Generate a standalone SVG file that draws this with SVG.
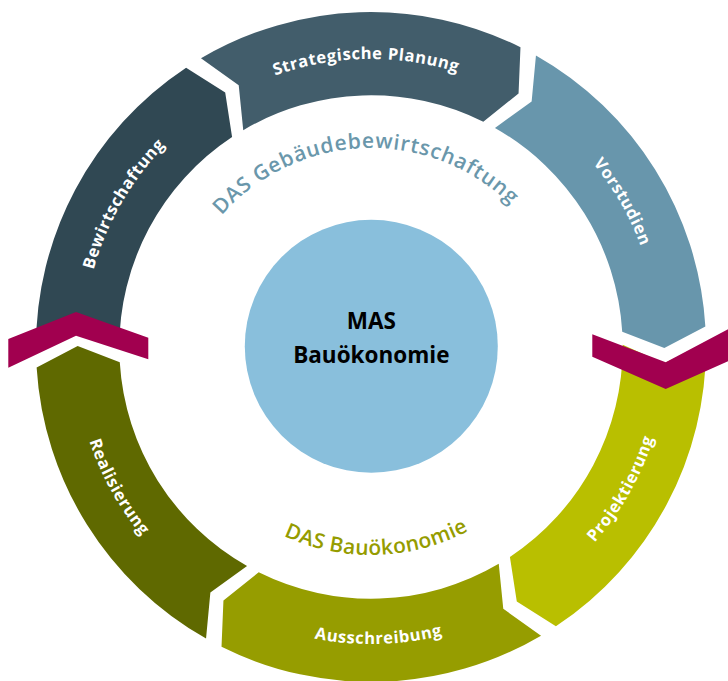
<svg xmlns="http://www.w3.org/2000/svg" width="728" height="681" viewBox="0 0 728 681">
<style>
.lbl{font-family:"Open Sans","Noto Sans","Liberation Sans",sans-serif;font-weight:700;font-size:16.5px;fill:#ffffff;letter-spacing:0.6px}
.das{font-family:"Open Sans","Noto Sans","Liberation Sans",sans-serif;font-weight:600;font-size:21px}
.ctr{font-family:"Open Sans","Noto Sans","Liberation Sans",sans-serif;font-weight:700;font-size:22.5px;fill:#000000}
.chev{fill:#a1004f}
</style>
<defs>
<path id="pStrat" d="M86.55,301.95 A288,288 0 0 1 653.71,292.05"/>
<path id="pVor" d="M272.50,76.37 A288,288 0 0 1 556.12,567.62"/>
<path id="pBew" d="M185.88,567.62 A288,288 0 0 1 469.50,76.37"/>
<path id="pProj" d="M271.86,626.96 A297,297 0 0 0 559.92,117.83"/>
<path id="pAus" d="M79.96,406.21 A297,297 0 0 0 664.74,390.90"/>
<path id="pReal" d="M184.09,116.19 A297,297 0 0 0 467.69,627.82"/>
<path id="pDasTop" d="M172.12,353.95 A199,199 0 0 1 569.88,340.05"/>
<path id="pDasBot" d="M163.08,352.81 A208,208 0 0 0 578.92,341.19"/>
</defs>

<g id="strategische-planung">
<path fill="#425d6b" d="M200.97,58.35 A335,335 0 0 1 520.48,47.20 L518.56,93.46 L483.31,121.75 A251.7,251.7 0 0 0 243.25,130.13 L238.73,85.16 Z"/>
<text class="lbl"><textPath href="#pStrat" startOffset="50%" text-anchor="middle">Strategische Planung</textPath></text>
</g>
<g id="vorstudien">
<path fill="#6896ac" d="M535.96,55.43 A335,335 0 0 1 705.37,326.55 L664.35,348.02 L622.23,331.63 A251.7,251.7 0 0 0 494.94,127.93 L531.63,101.54 Z"/>
<text class="lbl"><textPath href="#pVor" startOffset="50%" text-anchor="middle">Vorstudien</textPath></text>
</g>
<g id="projektierung">
<path fill="#b9bf00" d="M705.99,344.08 A335,335 0 0 1 555.90,626.35 L516.79,601.56 L509.92,556.89 A251.7,251.7 0 0 0 622.69,344.80 L663.89,363.37 Z"/>
<text class="lbl"><textPath href="#pProj" startOffset="50%" text-anchor="middle">Projektierung</textPath></text>
</g>
<g id="ausschreibung">
<path fill="#969d00" d="M541.03,635.65 A335,335 0 0 1 221.52,646.80 L223.44,600.54 L258.69,572.25 A251.7,251.7 0 0 0 498.75,563.87 L503.27,608.84 Z"/>
<text class="lbl"><textPath href="#pAus" startOffset="50%" text-anchor="middle">Ausschreibung</textPath></text>
</g>
<g id="realisierung">
<path fill="#5f6900" d="M206.04,638.57 A335,335 0 0 1 36.63,367.45 L77.65,345.98 L119.77,362.37 A251.7,251.7 0 0 0 247.06,566.07 L210.37,592.46 Z"/>
<text class="lbl"><textPath href="#pReal" startOffset="50%" text-anchor="middle">Realisierung</textPath></text>
</g>
<g id="bewirtschaftung">
<path fill="#304853" d="M36.01,349.92 A335,335 0 0 1 186.10,67.65 L225.21,92.44 L232.08,137.11 A251.7,251.7 0 0 0 119.31,349.20 L78.11,330.63 Z"/>
<text class="lbl"><textPath href="#pBew" startOffset="50%" text-anchor="middle">Bewirtschaftung</textPath></text>
</g>

<g id="connectors">
<polygon class="chev" points="8.3,339 76,312 148.3,337.7 148.3,359.3 76,335.7 8.3,367.7"/>
<polygon class="chev" points="592.3,334.3 665.7,362.3 735,325.6 735,358 665.7,389 592.3,356.7"/>
</g>

<g id="das-gebaeudebewirtschaftung">
<text class="das" fill="#6a97ab" letter-spacing="0.8"><textPath href="#pDasTop" startOffset="50%" text-anchor="middle">DAS Gebäudebewirtschaftung</textPath></text>
</g>
<g id="das-bauoekonomie">
<text class="das" fill="#959c00" letter-spacing="0.3"><textPath href="#pDasBot" startOffset="50%" text-anchor="middle">DAS Bauökonomie</textPath></text>
</g>

<g id="mas-bauoekonomie">
<circle cx="371.3" cy="346.3" r="126.5" fill="#89bfdc"/>
<text class="ctr" x="371.3" y="329" text-anchor="middle">MAS</text>
<text class="ctr" x="371.3" y="363.3" text-anchor="middle">Bauökonomie</text>
</g>
</svg>
